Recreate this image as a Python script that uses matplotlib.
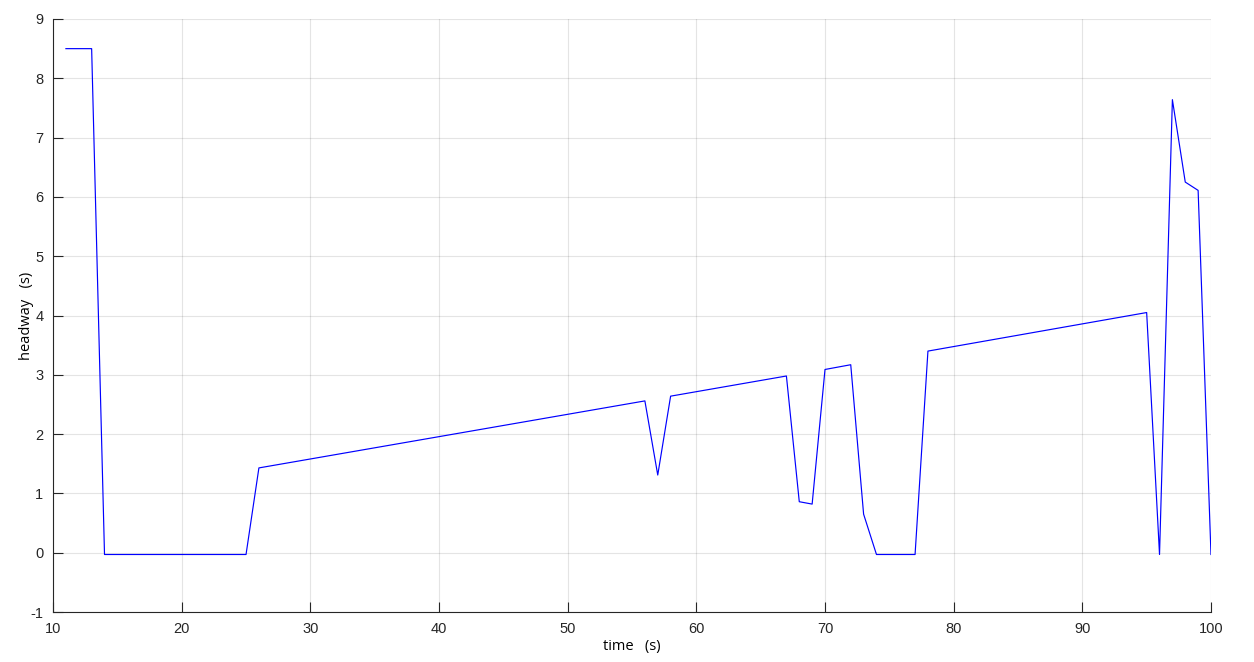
import numpy as np
from matplotlib import pyplot as plt

# breakpoints of the headway trace (time in s, headway in s)
time = [11, 12, 13, 14, 25, 26, 56, 57, 58, 67, 68, 69, 70, 72, 73, 74, 77, 78,
        95, 96, 97, 98, 99, 100]
headway = [8.5, 8.5, 8.5, -0.03, -0.03, 1.43, 2.56, 1.31, 2.64, 2.98, 0.86, 0.82,
           3.09, 3.17, 0.65, -0.03, -0.03, 3.40, 4.05, -0.03, 7.64, 6.25, 6.11, -0.03]

xticks = list(range(10, 101, 10))
yticks = list(range(-1, 10))

def plotter():
    plt.rcParams['font.family'] = ['Liberation Sans', 'DejaVu Sans']
    plt.rcParams['axes.unicode_minus'] = False
    fig = plt.figure(figsize=(12.54, 6.62), dpi=100)
    ax = fig.add_axes([0.0423, 0.0755, 0.9234, 0.8958])
    ax.plot(time, headway, color=(0, 0, 1), lw=0.85)
    ax.set_xlim(10, 100)
    ax.set_ylim(-1, 9)
    ax.set_xticks(xticks)
    ax.set_yticks(yticks)
    ax.grid(True, color=(0.15, 0.15, 0.15), alpha=0.12, lw=0.8)
    ax.set_axisbelow(True)
    for s in ['top', 'right']:
        ax.spines[s].set_visible(False)
    for s in ['left', 'bottom']:
        ax.spines[s].set_color((0.15, 0.15, 0.15))
        ax.spines[s].set_linewidth(0.8)
    ax.tick_params(direction='in', length=7.5, width=0.8, colors=(0.15, 0.15, 0.15),
                   labelsize=10.5, pad=7)
    ax.set_xlabel('time   (s)', fontsize=10.5, family=['Open Sans', 'DejaVu Sans'],
                  labelpad=2)
    ax.set_ylabel('headway   (s)', fontsize=10.5, family=['Open Sans', 'DejaVu Sans'],
                  labelpad=-3)
    fig.savefig('out.png', dpi=100)

if __name__ == '__main__':
    plotter()
